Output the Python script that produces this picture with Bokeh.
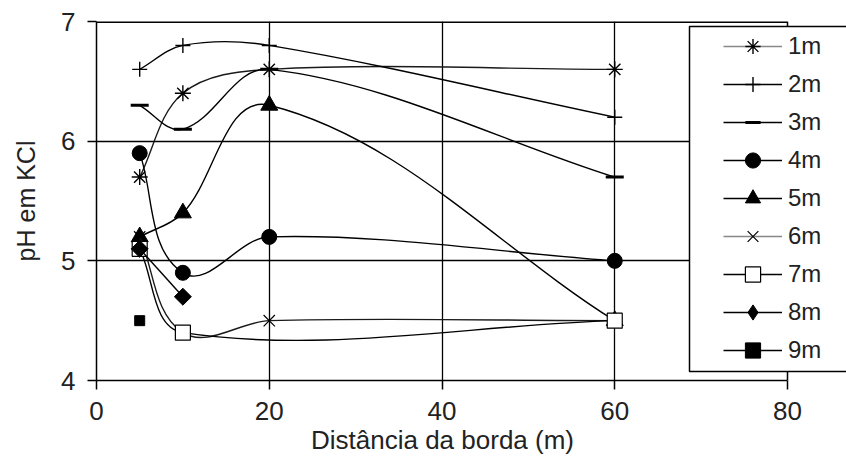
import math
import numpy as np
from bokeh.plotting import figure
from bokeh.models import (Range1d, FixedTicker, Legend, LegendItem,
                          BoxAnnotation, ColumnDataSource, Title)
from bokeh.embed import file_html
from bokeh.resources import INLINE

# Distance from the forest edge (m) and pH in KCl for each depth series
distance = [5, 10, 20, 60]
ph_1m = [5.7, 6.4, 6.6, 6.6]
ph_2m = [6.6, 6.8, 6.8, 6.2]
ph_3m = [6.3, 6.1, 6.6, 5.7]
ph_4m = [5.9, 4.9, 5.2, 5.0]
ph_5m = [5.2, 5.4, 6.3, 4.5]
ph_6m = [5.2, 4.4, 4.5, 4.5]
ph_7m = [5.1, 4.4, None, 4.5]
ph_8m = [5.1, 4.7, None, None]
ph_9m = [4.5, None, None, None]

series_labels = ["1m", "2m", "3m", "4m", "5m", "6m", "7m", "8m", "9m"]
series_values = [ph_1m, ph_2m, ph_3m, ph_4m, ph_5m, ph_6m, ph_7m, ph_8m, ph_9m]

x_ticks = [0, 20, 40, 60, 80]
y_ticks = [4, 5, 6, 7]
x_title = "Distância da borda (m)"
y_title = "pH em KCl"

FONT = "Liberation Sans"
TEXT = "#222222"

W, H = 846, 461
LEFT, TOP, BOTTOM = 96, 21, 81
AXIS_RIGHT_PX = 787                      # where x = 80 sits on the canvas
PX_PER_X = (AXIS_RIGHT_PX - LEFT) / (x_ticks[-1] - x_ticks[0])
PX_PER_Y = (H - TOP - BOTTOM) / (y_ticks[-1] - y_ticks[0])
# the plot area runs on to the right edge so the key panel is not clipped
x_end = x_ticks[-1] + (W - AXIS_RIGHT_PX) / PX_PER_X

LINE_W = 1.4
KEY_GREY = "#888888"
styles = [
    dict(marker="asterisk", size=16, fill="black", mlw=1.4, color="#1a1a1a", key=KEY_GREY, angle=0),
    dict(marker="cross", size=15, fill="black", mlw=1.4, color="black", key="black", angle=0),
    dict(marker="dash", size=18, fill="black", mlw=3.0, color="black", key="black", angle=0),
    dict(marker="circle", size=15, fill="black", mlw=1.0, color="black", key="black", angle=0),
    dict(marker="triangle", size=17, fill="black", mlw=1.0, color="black", key="black", angle=0),
    dict(marker="x", size=16, fill="black", mlw=1.2, color="#1a1a1a", key=KEY_GREY, angle=0),
    dict(marker="square", size=15, fill="white", mlw=1.2, color="black", key="black", angle=0),
    dict(marker="square", size=12, fill="black", mlw=1.0, color="black", key="black",
         angle=math.pi / 4, key_marker="diamond"),
    dict(marker="square", size=10, fill="black", mlw=1.0, color="black", key="black", angle=0),
]


def smooth_segments(xs, ys):
    """Bezier segments of a smoothed line: handles follow the neighbours'
    direction and are a third of the segment length (on screen)."""
    pts = [(x * PX_PER_X, y * PX_PER_Y) for x, y in zip(xs, ys) if y is not None]
    n = len(pts)
    seg = dict(x0=[], y0=[], x1=[], y1=[], cx0=[], cy0=[], cx1=[], cy1=[])

    def unit(a, b):
        dx, dy = b[0] - a[0], b[1] - a[1]
        d = math.hypot(dx, dy) or 1.0
        return dx / d, dy / d

    for i in range(n - 1):
        p0 = pts[i - 1] if i > 0 else pts[i]
        p1 = pts[i]
        p2 = pts[i + 1]
        p3 = pts[i + 2] if i + 2 < n else pts[i + 1]
        h = math.hypot(p2[0] - p1[0], p2[1] - p1[1]) / 3.0
        u1 = unit(p0, p2)
        u2 = unit(p1, p3)
        c0 = (p1[0] + u1[0] * h, p1[1] + u1[1] * h)
        c1 = (p2[0] - u2[0] * h, p2[1] - u2[1] * h)
        for key, pt in (("0", p1), ("1", p2)):
            seg["x" + key].append(pt[0] / PX_PER_X)
            seg["y" + key].append(pt[1] / PX_PER_Y)
        seg["cx0"].append(c0[0] / PX_PER_X); seg["cy0"].append(c0[1] / PX_PER_Y)
        seg["cx1"].append(c1[0] / PX_PER_X); seg["cy1"].append(c1[1] / PX_PER_Y)
    return seg


p = figure(width=W, height=H, output_backend="svg", toolbar_location=None,
           x_range=Range1d(x_ticks[0], x_end), y_range=Range1d(y_ticks[0], y_ticks[-1]),
           min_border_left=LEFT, min_border_right=0,
           min_border_top=TOP, min_border_bottom=BOTTOM,
           y_axis_label=y_title)

p.background_fill_color = "white"
p.border_fill_color = "white"
p.outline_line_color = None

for ax, ticks in ((p.xaxis, x_ticks), (p.yaxis, y_ticks)):
    ax.ticker = FixedTicker(ticks=ticks)
    ax.bounds = (ticks[0], ticks[-1])
    ax.major_tick_out = 9
    ax.major_tick_in = 0
    ax.minor_tick_out = 0
    ax.minor_tick_in = 0
    ax.axis_line_width = 1.5
    ax.major_tick_line_width = 1.5
    ax.major_label_text_font = FONT
    ax.major_label_text_font_size = "26px"
    ax.major_label_text_color = TEXT
    ax.axis_label_text_font = FONT
    ax.axis_label_text_font_style = "normal"
    ax.axis_label_text_color = TEXT

p.yaxis.axis_label_text_font_size = "25px"
p.xaxis.major_label_standoff = 12
p.yaxis.major_label_standoff = 12
p.yaxis.axis_label_standoff = 18

# x title centred under the 0-80 span of the axis
title_width = 262
p.add_layout(Title(text=x_title, align="left",
                   offset=(AXIS_RIGHT_PX - LEFT) / 2 - title_width / 2,
                   vertical_align="top", standoff=5,
                   text_font=FONT, text_font_size="26px",
                   text_font_style="normal", text_color=TEXT), "below")

p.xgrid.ticker = FixedTicker(ticks=x_ticks[1:-1])
p.ygrid.ticker = FixedTicker(ticks=y_ticks[1:-1])
for g in (p.xgrid, p.ygrid):
    g.grid_line_color = "black"
    g.grid_line_width = 1.3
    g.grid_line_alpha = 1.0

# top and right edges of the chart box
p.segment(x0=[x_ticks[0]], y0=[y_ticks[-1]], x1=[x_ticks[-1]], y1=[y_ticks[-1]],
          line_color="black", line_width=3)
p.segment(x0=[x_ticks[-1]], y0=[y_ticks[0]], x1=[x_ticks[-1]], y1=[y_ticks[-1]],
          line_color="black", line_width=1.5)

items = []
for label, vals, st in zip(series_labels, series_values, styles):
    seg = smooth_segments(distance, vals)
    if seg["x0"]:
        p.bezier(x0="x0", y0="y0", x1="x1", y1="y1", cx0="cx0", cy0="cy0",
                 cx1="cx1", cy1="cy1", source=ColumnDataSource(seg),
                 line_color=st["color"], line_width=LINE_W)
    xs = [x for x, v in zip(distance, vals) if v is not None]
    ys = [v for v in vals if v is not None]
    marks = p.scatter(xs, ys, marker=st["marker"], size=st["size"],
                      fill_color=st["fill"], line_color="black",
                      line_width=st["mlw"], angle=st["angle"])
    key_line = p.line(x=[np.nan], y=[np.nan], line_color=st["key"], line_width=LINE_W)
    key_marks = marks
    if "key_marker" in st:
        key_marks = p.scatter(x=[np.nan], y=[np.nan], marker=st["key_marker"],
                              size=st["size"], fill_color=st["fill"],
                              line_color="black", line_width=st["mlw"])
    items.append(LegendItem(label=label, renderers=[key_line, key_marks]))

# white key panel with border, laid over the plot area
panel = BoxAnnotation(left=593, right=820, bottom=9, top=354,
                      left_units="screen", right_units="screen",
                      bottom_units="screen", top_units="screen",
                      fill_color="white", fill_alpha=1.0,
                      line_color="black", line_width=1.5, line_alpha=1.0)
p.add_layout(panel)

legend = Legend(items=items, location=(627, 11), orientation="vertical",
                padding=0, margin=0, spacing=0,
                glyph_width=59, glyph_height=38, label_height=38,
                label_standoff=6, label_text_font=FONT,
                label_text_font_size="24px", label_text_color=TEXT,
                border_line_alpha=0, background_fill_alpha=0)
p.add_layout(legend, "center")

open("out.html", "w").write(file_html(p, INLINE))
